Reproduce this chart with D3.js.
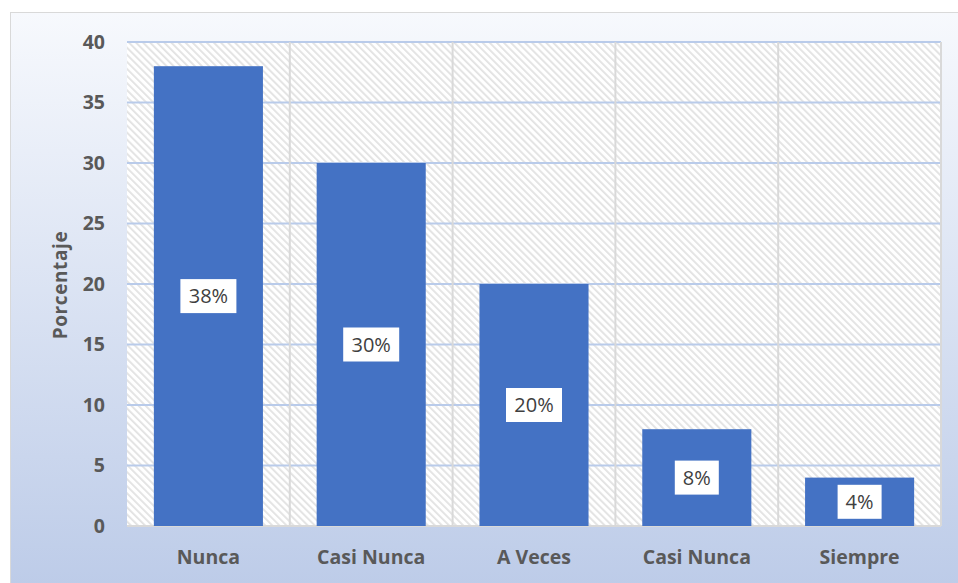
<!DOCTYPE html>
<meta charset="utf-8">
<style>
  body { margin: 0; background: #ffffff; }
  .axis text { font: bold 19px "Open Sans", sans-serif; fill: #595959; }
  .axis path, .axis line { display: none; }
</style>
<svg width="958" height="583"></svg>
<script src="https://d3js.org/d3.v7.min.js"></script>
<script>
  var categories = ["Nunca", "Casi Nunca", "A Veces", "Casi Nunca ", "Siempre"];
  var values = [38, 30, 20, 8, 4];
  var labels = ["38%", "30%", "20%", "8%", "4%"];
  var yTicks = [0, 5, 10, 15, 20, 25, 30, 35, 40];

  var svg = d3.select("svg"),
    margin = { top: 42, right: 17, bottom: 57, left: 127 },
    width = +svg.attr("width") - margin.left - margin.right,
    height = +svg.attr("height") - margin.top - margin.bottom;

  var defs = svg.append("defs");
  var grad = defs.append("linearGradient").attr("id", "bg")
    .attr("x1", 0).attr("y1", 0).attr("x2", 0).attr("y2", 1);
  grad.append("stop").attr("offset", "0%").attr("stop-color", "#f7f9fd");
  grad.append("stop").attr("offset", "100%").attr("stop-color", "#bccbe8");

  var pat = defs.append("pattern").attr("id", "hatch")
    .attr("patternUnits", "userSpaceOnUse")
    .attr("width", 5).attr("height", 5)
    .attr("patternTransform", "rotate(-45)");
  pat.append("rect").attr("width", 5).attr("height", 5).attr("fill", "#ffffff");
  pat.append("rect").attr("width", 1.8).attr("height", 5).attr("fill", "#e2e2e2");

  // chart area background
  svg.append("rect")
    .attr("x", 10.5).attr("y", 12.5)
    .attr("width", 958).attr("height", 583)
    .attr("fill", "url(#bg)")
    .attr("stroke", "#d9d9d9");

  var g = svg.append("g")
    .attr("transform", "translate(" + margin.left + "," + margin.top + ")");

  var x = d3.scaleBand().domain(categories).range([0, width]).paddingInner(0.33).paddingOuter(0.165),
    xg = d3.scaleBand().domain(categories).range([0, width]),
    y = d3.scaleLinear().domain([0, 40]).range([height, 0]);

  g.append("rect")
    .attr("width", width).attr("height", height)
    .attr("fill", "url(#hatch)");

  // horizontal gridlines
  g.selectAll(".hgrid")
    .data(yTicks.slice(1))
    .enter().append("line")
    .attr("x1", 0).attr("x2", width)
    .attr("y1", function (d) { return y(d); })
    .attr("y2", function (d) { return y(d); })
    .attr("stroke", "#b9cbea").attr("stroke-width", 2);

  // vertical gridlines
  g.selectAll(".vgrid")
    .data(categories)
    .enter().append("line")
    .attr("x1", function (d) { return xg(d) + xg.bandwidth(); })
    .attr("x2", function (d) { return xg(d) + xg.bandwidth(); })
    .attr("y1", 0).attr("y2", height)
    .attr("stroke", "#d9d9d9").attr("stroke-width", 2);

  g.append("line")
    .attr("x1", 0).attr("x2", width)
    .attr("y1", height).attr("y2", height)
    .attr("stroke", "#d9d9d9").attr("stroke-width", 2);

  g.selectAll(".bar")
    .data(values)
    .enter().append("rect")
    .attr("x", function (d, i) { return x(categories[i]); })
    .attr("y", function (d) { return y(d); })
    .attr("width", x.bandwidth())
    .attr("height", function (d) { return height - y(d); })
    .attr("fill", "#4472c4");

  var lab = g.selectAll(".lab")
    .data(values)
    .enter().append("g")
    .attr("transform", function (d, i) {
      return "translate(" + (x(categories[i]) + x.bandwidth() / 2) + "," + y(d / 2) + ")";
    });
  lab.append("rect")
    .attr("x", function (d, i) { return labels[i].length > 2 ? -28 : -22; })
    .attr("y", -17)
    .attr("width", function (d, i) { return labels[i].length > 2 ? 56 : 44; })
    .attr("height", 34)
    .attr("fill", "#ffffff");
  lab.append("text")
    .attr("text-anchor", "middle")
    .attr("dy", "0.36em")
    .style("font", "20px 'Open Sans', sans-serif")
    .attr("fill", "#404040")
    .text(function (d, i) { return labels[i]; });

  g.append("g")
    .attr("class", "axis")
    .call(d3.axisLeft(y).tickValues(yTicks).tickSize(0).tickPadding(22));

  g.append("g")
    .attr("class", "axis")
    .attr("transform", "translate(0," + height + ")")
    .call(d3.axisBottom(xg).tickSize(0).tickPadding(24).tickFormat(function (d) { return d.trim(); }));

  g.selectAll(".axis text").style("font-size", "19.5px");

  g.append("text")
    .attr("transform", "rotate(-90)")
    .attr("x", -(285 - margin.top))
    .attr("y", -60)
    .attr("text-anchor", "middle")
    .style("font", "bold 19px 'Open Sans', sans-serif")
    .style("letter-spacing", "0.6px")
    .attr("fill", "#595959")
    .text("Porcentaje");
</script>
